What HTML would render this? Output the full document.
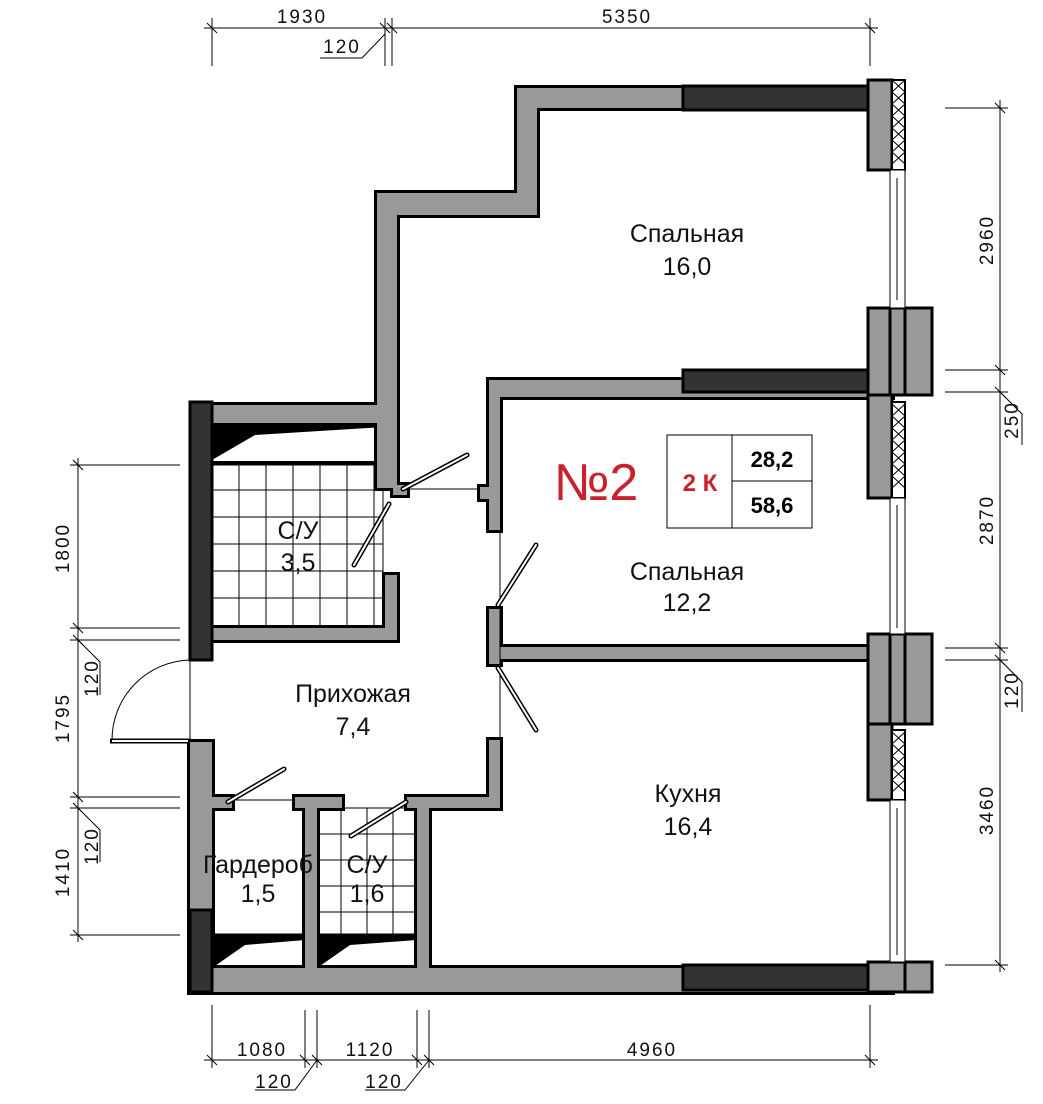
<!DOCTYPE html>
<html><head><meta charset="utf-8"><style>
html,body{margin:0;padding:0;background:#fff}
svg{display:block}
text{font-family:"Liberation Sans",sans-serif}
.t{font-size:25px;fill:#111;text-anchor:middle}
.dm{font-size:19px;fill:#111;text-anchor:middle;letter-spacing:2px}
.l{stroke:#000;stroke-width:1;fill:none}
.dr{stroke:#000;stroke-width:5;stroke-linecap:round}
.dr2{stroke:#fff;stroke-width:2;stroke-linecap:round}
</style></head><body>
<svg width="1043" height="1104" viewBox="0 0 1043 1104" xmlns="http://www.w3.org/2000/svg" xmlns:xlink="http://www.w3.org/1999/xlink">
<defs>
<g id="walls">
<rect x="517" y="88" width="375" height="20"/>
<rect x="517" y="88" width="20" height="127"/>
<rect x="377" y="193" width="160" height="22"/>
<rect x="377" y="193" width="20" height="295"/>
<rect x="212" y="405" width="183" height="18"/>
<rect x="383" y="410" width="12" height="78"/>
<rect x="385" y="575" width="12" height="65"/>
<rect x="212" y="628" width="185" height="12"/>
<rect x="393" y="485" width="14" height="10"/>
<rect x="489" y="380" width="403" height="17"/>
<rect x="489" y="380" width="11" height="150"/>
<rect x="480" y="487" width="15" height="12"/>
<rect x="489" y="609" width="11" height="55"/>
<rect x="489" y="647" width="381" height="12"/>
<rect x="489" y="740" width="11" height="68"/>
<rect x="407" y="797" width="93" height="11"/>
<rect x="190" y="968" width="702" height="24"/>
<rect x="190" y="742" width="22" height="240"/>
<rect x="190" y="797" width="42" height="11"/>
<rect x="295" y="797" width="47" height="11"/>
<rect x="305" y="797" width="12" height="180"/>
<rect x="417" y="797" width="12" height="180"/>
</g>
</defs>
<!-- tile grids -->
<g class="l">
<rect x="212" y="465" width="171" height="163" fill="#fff"/>
<path d="M212 490H383M212 517H383M212 544H383M212 571H383M212 598H383M239 465V628M266 465V628M293 465V628M320 465V628M347 465V628M374 465V628"/>
<path d="M317 808H417M317 834H417M317 860H417M317 886H417M317 912H417M341 808V935M367 808V935M393 808V935"/>
</g>
<line x1="212" y1="463" x2="383" y2="463" stroke="#000" stroke-width="4"/>
<polygon points="212,423 383,423 383,427 255,435 212,460" fill="#000"/>
<polygon points="212,935 305,935 305,940 245,945 212,968" fill="#000"/>
<polygon points="317,935 417,935 417,940 350,945 317,968" fill="#000"/>
<line x1="212" y1="935" x2="417" y2="935" stroke="#000" stroke-width="3"/>
<!-- walls merged -->
<use xlink:href="#walls" href="#walls" fill="#999" stroke="#000" stroke-width="6"/>
<use xlink:href="#walls" href="#walls" fill="#999" stroke="none"/>
<g fill="#333" stroke="#000" stroke-width="3">
<rect x="190" y="402" width="22" height="258"/>
<rect x="190" y="910" width="22" height="82"/>
<rect x="683" y="86" width="207" height="24"/>
<rect x="683" y="370" width="207" height="22"/>
<rect x="683" y="965" width="207" height="25"/>
</g>
<!-- facade -->
<g fill="#999" stroke="#000" stroke-width="3">
<rect x="868" y="80" width="24" height="90"/>
<rect x="868" y="308" width="64" height="87"/>
<rect x="868" y="395" width="24" height="103"/>
<rect x="868" y="634" width="64" height="90"/>
<rect x="868" y="724" width="24" height="76"/>
<rect x="868" y="962" width="64" height="30"/>
</g>
<rect x="892" y="80" width="13" height="90" fill="#fff" stroke="#000" stroke-width="2"/>
<path d="M892 80l13 12M905 80l-13 12M892 92l13 12M905 92l-13 12M892 104l13 12M905 104l-13 12M892 116l13 12M905 116l-13 12M892 128l13 12M905 128l-13 12M892 140l13 12M905 140l-13 12M892 152l13 12M905 152l-13 12" class="l"/>
<rect x="890" y="170" width="15" height="138" fill="#fff" stroke="#000" stroke-width="1"/>
<line x1="897" y1="178" x2="897" y2="300" class="l"/>
<line x1="890" y1="308" x2="890" y2="395" stroke="#000" stroke-width="3"/>
<line x1="905" y1="308" x2="905" y2="395" stroke="#000" stroke-width="3"/>
<rect x="892" y="402" width="13" height="96" fill="#fff" stroke="#000" stroke-width="2"/>
<path d="M892 404l13 12M905 404l-13 12M892 416l13 12M905 416l-13 12M892 428l13 12M905 428l-13 12M892 440l13 12M905 440l-13 12M892 452l13 12M905 452l-13 12M892 464l13 12M905 464l-13 12M892 476l13 12M905 476l-13 12" class="l"/>
<rect x="890" y="498" width="15" height="136" fill="#fff" stroke="#000" stroke-width="1"/>
<line x1="897" y1="505" x2="897" y2="628" class="l"/>
<line x1="890" y1="634" x2="890" y2="724" stroke="#000" stroke-width="3"/>
<line x1="905" y1="634" x2="905" y2="724" stroke="#000" stroke-width="3"/>
<rect x="892" y="730" width="13" height="70" fill="#fff" stroke="#000" stroke-width="2"/>
<path d="M892 732l13 12M905 732l-13 12M892 744l13 12M905 744l-13 12M892 756l13 12M905 756l-13 12M892 768l13 12M905 768l-13 12M892 780l13 12M905 780l-13 12" class="l"/>
<rect x="890" y="800" width="15" height="162" fill="#fff" stroke="#000" stroke-width="1"/>
<line x1="897" y1="808" x2="897" y2="955" class="l"/>
<line x1="905" y1="962" x2="905" y2="992" stroke="#000" stroke-width="3"/>
<!-- doors -->
<line x1="407" y1="489" x2="480" y2="489" class="l"/>
<line class="dr" x1="403" y1="489" x2="467" y2="455"/><line class="dr2" x1="403" y1="489" x2="467" y2="455"/>
<line class="dr" x1="389" y1="504" x2="354" y2="565"/><line class="dr2" x1="389" y1="504" x2="354" y2="565"/>
<line x1="500" y1="530" x2="500" y2="740" class="l"/>
<line class="dr" x1="498" y1="605" x2="536" y2="545"/><line class="dr2" x1="498" y1="605" x2="536" y2="545"/>
<line class="dr" x1="498" y1="668" x2="536" y2="730"/><line class="dr2" x1="498" y1="668" x2="536" y2="730"/>
<line x1="190" y1="660" x2="190" y2="742" class="l"/>
<path d="M190 660A80 80 0 0 0 112 740" class="l"/>
<line x1="110" y1="741" x2="190" y2="741" stroke="#000" stroke-width="5"/>
<line x1="112" y1="741" x2="188" y2="741" stroke="#fff" stroke-width="2"/>
<line x1="232" y1="800" x2="295" y2="800" class="l"/>
<line class="dr" x1="228" y1="802" x2="284" y2="769"/><line class="dr2" x1="228" y1="802" x2="284" y2="769"/>
<line class="dr" x1="406" y1="802" x2="351" y2="836"/><line class="dr2" x1="406" y1="802" x2="351" y2="836"/>
<!-- labels -->
<text class="t" x="687" y="242">Спальная</text><text class="t" x="687" y="275">16,0</text>
<text class="t" x="687" y="580">Спальная</text><text class="t" x="687" y="611">12,2</text>
<text class="t" x="353" y="702">Прихожая</text><text class="t" x="353" y="735">7,4</text>
<text class="t" x="688" y="802">Кухня</text><text class="t" x="688" y="835">16,4</text>
<text class="t" x="298" y="539">С/У</text><text class="t" x="298" y="571">3,5</text>
<text class="t" x="258" y="873">Гардероб</text><text class="t" x="258" y="902">1,5</text>
<text class="t" x="367" y="873">С/У</text><text class="t" x="367" y="902">1,6</text>
<text x="596" y="500" font-size="52" fill="#c8222a" text-anchor="middle">№2</text>
<rect x="667" y="435" width="145" height="93" fill="none" stroke="#000" stroke-width="1"/>
<line x1="732" y1="435" x2="732" y2="528" class="l"/><line x1="732" y1="481" x2="812" y2="481" class="l"/>
<text x="700" y="491" font-size="24" font-weight="bold" fill="#c8222a" text-anchor="middle">2 К</text>
<text x="772" y="467" font-size="22" font-weight="bold" fill="#000" text-anchor="middle">28,2</text>
<text x="772" y="513" font-size="22" font-weight="bold" fill="#000" text-anchor="middle">58,6</text>
<!-- dims -->
<g class="l">
<line x1="204" y1="28" x2="878" y2="28"/>
<line x1="212" y1="18" x2="212" y2="66"/><line x1="385" y1="18" x2="385" y2="66"/><line x1="392" y1="18" x2="392" y2="66"/><line x1="870" y1="18" x2="870" y2="66"/>
<path d="M207 23l10 10M380 23l10 10M387 23l10 10M865 23l10 10"/>
<path d="M385 34L362 58H320"/>
<line x1="1000" y1="100" x2="1000" y2="972"/>
<path d="M945 108H1008M945 370H1008M945 392H1008M945 648H1008M945 660H1008M945 965H1008"/>
<path d="M995 103l10 10M995 365l10 10M995 387l10 10M995 643l10 10M995 655l10 10M995 960l10 10"/>
<path d="M1000 392l22 22V445M1000 660l22 22V712"/>
<line x1="78" y1="458" x2="78" y2="942"/>
<path d="M70 465H180M70 628H180M70 640H180M70 797H180M70 808H180M70 935H180"/>
<path d="M73 460l10 10M73 623l10 10M73 635l10 10M73 792l10 10M73 803l10 10M73 930l10 10"/>
<path d="M78 640l22 22V695M78 808l22 22V862"/>
<line x1="204" y1="1060" x2="878" y2="1060"/>
<path d="M212 1005V1068M305 1010V1068M317 1010V1068M417 1010V1068M429 1010V1068M870 1005V1068"/>
<path d="M207 1055l10 10M300 1055l10 10M312 1055l10 10M412 1055l10 10M424 1055l10 10M865 1055l10 10"/>
<path d="M317 1060L295 1090H255M429 1060L405 1090H365"/>
</g>
<g class="dm">
<text x="302" y="23">1930</text><text x="627" y="23">5350</text><text x="342" y="53">120</text>
<text x="262" y="1056">1080</text><text x="370" y="1056">1120</text><text x="652" y="1056">4960</text>
<text x="274" y="1088">120</text><text x="384" y="1088">120</text>
<text transform="translate(993,240) rotate(-90)">2960</text>
<text transform="translate(1018,420) rotate(-90)">250</text>
<text transform="translate(993,520) rotate(-90)">2870</text>
<text transform="translate(1018,690) rotate(-90)">120</text>
<text transform="translate(993,810) rotate(-90)">3460</text>
<text transform="translate(69,548) rotate(-90)">1800</text>
<text transform="translate(98,678) rotate(-90)">120</text>
<text transform="translate(69,718) rotate(-90)">1795</text>
<text transform="translate(98,846) rotate(-90)">120</text>
<text transform="translate(69,872) rotate(-90)">1410</text>
</g>
</svg>
</body></html>
